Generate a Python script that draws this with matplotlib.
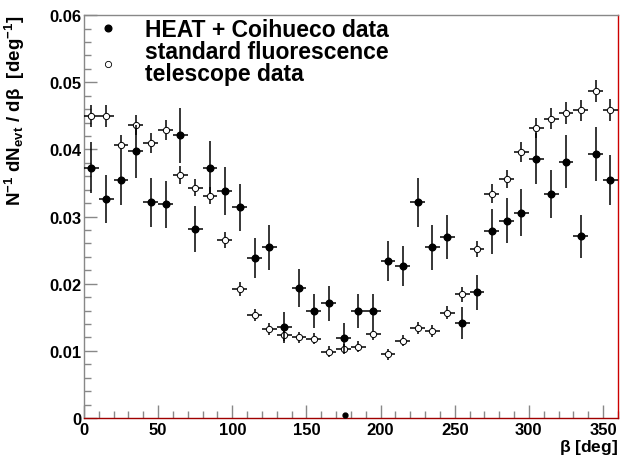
import numpy as np
import matplotlib
matplotlib.use("Agg")
import matplotlib.pyplot as plt
from matplotlib.lines import Line2D
from matplotlib.ticker import MultipleLocator

plt.rcParams["font.family"] = ["Liberation Sans", "DejaVu Sans"]
plt.rcParams["font.weight"] = "bold"
plt.rcParams["mathtext.fontset"] = "custom"
plt.rcParams["mathtext.rm"] = "Liberation Sans:bold"
plt.rcParams["mathtext.it"] = "Liberation Sans:bold"
plt.rcParams["mathtext.bf"] = "Liberation Sans:bold"

# bin centres (10 deg bins)
beta = np.arange(5, 360, 10)
beta_err = 5

# HEAT + Coihueco data
heat = [0.0373, 0.0326, 0.0354, 0.0397, 0.0321, 0.0318, 0.0421, 0.0282, 0.0373, 0.0338,
        0.0314, 0.0238, 0.0254, 0.0135, 0.0194, 0.0159, 0.0171, 0.0119, 0.0159, 0.0159,
        0.0234, 0.0226, 0.0321, 0.0254, 0.0270, 0.0142, 0.0187, 0.0278, 0.0294, 0.0306,
        0.0386, 0.0334, 0.0382, 0.0271, 0.0393, 0.0354]
heat_err = [0.0038, 0.0036, 0.0037, 0.0040, 0.0037, 0.0035, 0.0041, 0.0034, 0.0039, 0.0036,
            0.0035, 0.0030, 0.0033, 0.0023, 0.0028, 0.0025, 0.0026, 0.0022, 0.0025, 0.0025,
            0.0030, 0.0030, 0.0037, 0.0033, 0.0033, 0.0024, 0.0026, 0.0033, 0.0034, 0.0035,
            0.0038, 0.0036, 0.0039, 0.0032, 0.0040, 0.0037]

# standard fluorescence telescope data
std = [0.0450, 0.0450, 0.0407, 0.0436, 0.0410, 0.0429, 0.0362, 0.0343, 0.0331, 0.0265,
       0.0192, 0.0154, 0.0133, 0.0124, 0.0120, 0.0118, 0.0099, 0.0103, 0.0106, 0.0125,
       0.0095, 0.0115, 0.0134, 0.0129, 0.0157, 0.0184, 0.0252, 0.0334, 0.0356, 0.0396,
       0.0432, 0.0446, 0.0454, 0.0458, 0.0487, 0.0459]
std_err = [0.0016, 0.0016, 0.0015, 0.0015, 0.0015, 0.0015, 0.0014, 0.0013, 0.0013, 0.0012,
           0.0010, 0.0009, 0.0009, 0.0009, 0.0008, 0.0008, 0.0008, 0.0008, 0.0008, 0.0009,
           0.0008, 0.0008, 0.0009, 0.0009, 0.0010, 0.0011, 0.0012, 0.0014, 0.0014, 0.0015,
           0.0015, 0.0016, 0.0016, 0.0016, 0.0017, 0.0016]

# stray point on the axis
stray_x = [176]
stray_y = [0.0005]

fig = plt.figure(figsize=(6.2, 4.6), dpi=100)
ax = fig.add_axes([0.1355, 0.089, 0.861, 0.876])

ax.errorbar(beta, std, xerr=beta_err, yerr=std_err, fmt="o", ms=4.5, mfc="white",
            mec="black", mew=0.7, ecolor="black", elinewidth=1.1, capsize=0, zorder=3)
ax.errorbar(beta, heat, xerr=beta_err, yerr=heat_err, fmt="o", ms=4.8, mfc="black",
            mec="black", ecolor="black", elinewidth=1.1, capsize=0, zorder=4)
ax.plot(stray_x, stray_y, "o", color="black", ms=3.5, zorder=5)

ax.set_xlim(0, 360)
ax.set_ylim(0, 0.06)

ax.xaxis.set_major_locator(MultipleLocator(50))
ax.xaxis.set_minor_locator(MultipleLocator(10))
ax.yaxis.set_major_locator(MultipleLocator(0.01))
ax.yaxis.set_minor_locator(MultipleLocator(0.002))
ax.set_yticks(np.arange(0, 0.061, 0.01))
ax.set_yticklabels(["0", "0.01", "0.02", "0.03", "0.04", "0.05", "0.06"])

ax.tick_params(which="both", direction="in", colors="#888888", labelcolor="black",
               labelsize=12, top=False, right=False)
ax.tick_params(which="major", length=9.5, width=1.0)
ax.tick_params(which="minor", length=5, width=1.0)
ax.tick_params(axis="y", pad=2)
ax.tick_params(axis="x", pad=3)

ax.spines["left"].set_color("#888888")
ax.spines["top"].set_color("#888888")
ax.spines["bottom"].set_color("#a00000")
ax.spines["right"].set_color("#cc0000")
for s in ax.spines.values():
    s.set_linewidth(1.0)

ax.set_xlabel(r"$\beta$ [deg]", loc="right", fontsize=12.5, fontweight="bold", labelpad=0)
ax.set_ylabel(r"N$^{-1}$ dN$_{evt}$ / d$\beta$  [deg$^{-1}$]", loc="top", fontsize=13.5,
              fontweight="bold")
ax.yaxis.set_label_coords(-0.106, 1.0)

handles = [
    Line2D([], [], ls="none", marker="o", ms=4.8, mfc="black", mec="black"),
    Line2D([], [], ls="none", marker="o", ms=4.5, mfc="white", mec="black", mew=0.6),
]
leg = ax.legend(handles, ["HEAT + Coihueco data", "standard fluorescence\ntelescope data"],
                loc="upper left", frameon=False, prop={"size": 16.5, "weight": "bold"},
                handlelength=1.0, handletextpad=1.1, labelspacing=-0.05,
                borderaxespad=0.0, bbox_to_anchor=(0.006, 1.015))
for t in leg.get_texts():
    t.set_linespacing(0.95)

fig.savefig("out.png", dpi=100)
